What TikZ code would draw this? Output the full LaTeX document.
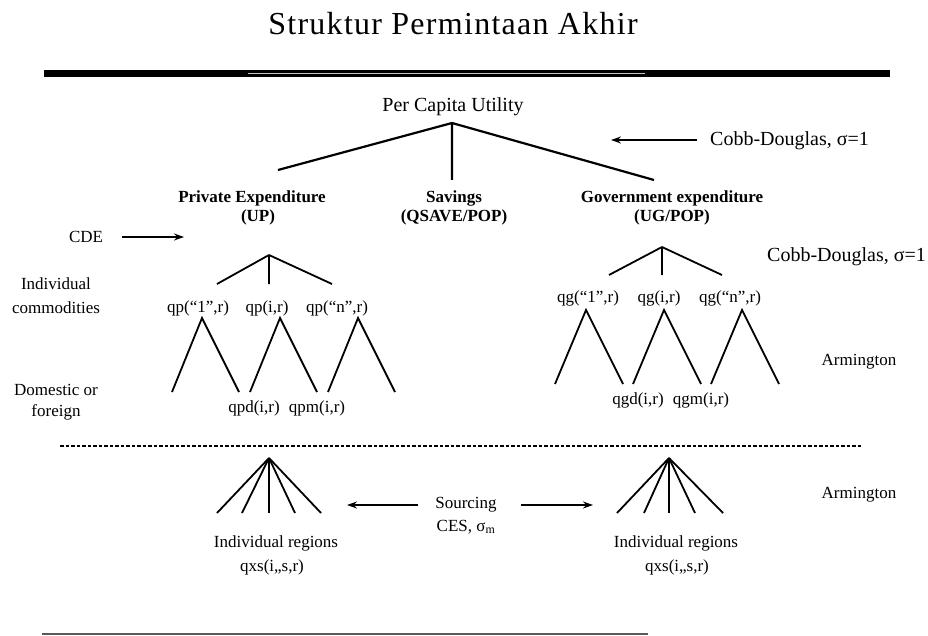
\documentclass[tikz,border=0pt]{standalone}
\usepackage{fontspec}
\setmainfont{Liberation Serif}
\newfontfamily\titlefont[LetterSpace=4]{Liberation Serif}
\usetikzlibrary{arrows.meta}
\tikzset{
  lbl/.style={inner sep=0pt, font=\fontsize{17}{19}\selectfont},
  head/.style={inner sep=0pt, font=\fontsize{17}{19}\bfseries\selectfont},
  cobb/.style={inner sep=0pt, anchor=west, font=\fontsize{20}{22}\selectfont},
  branch/.style={line width=1.8pt},
  topbranch/.style={line width=2.2pt},
  pointer/.style={line width=1.8pt, -{Stealth[length=10pt,width=7pt]}}
}
\begin{document}
\begin{tikzpicture}[x=1pt,y=-1pt]
\useasboundingbox (0,0) rectangle (928,636);

% title and rules
\node[inner sep=0pt, anchor=base, font=\titlefont\fontsize{32}{36}\selectfont] (title) at (453,35) {Struktur Permintaan Akhir};
\coordinate (rA) at (44,73.5);
\coordinate (rB) at (890,73.5);
\coordinate (rC) at (248,73.5);
\coordinate (rD) at (645,73.5);
\draw[line width=7pt] (rA) -- (rB);
\draw[line width=1.6pt, gray!45] (rC) -- (rD);
\coordinate (bA) at (42,634);
\coordinate (bB) at (648,634);
\draw[line width=1.5pt, black!65] (bA) -- (bB);

% top level
\node[inner sep=0pt, anchor=base, font=\fontsize{20}{22}\selectfont] (util) at (453,112) {Per Capita Utility};
\coordinate (u0) at (452,123);
\coordinate (u1) at (278,170);
\coordinate (u2) at (452,180);
\coordinate (u3) at (654,180);
\draw[topbranch] (u0) -- (u1) (u0) -- (u2) (u0) -- (u3);

\node[cobb] (cd1) at (710,141) {Cobb-Douglas, σ=1};
\coordinate (cd1s) at (697,140);
\coordinate (cd1e) at (611,140);
\draw[pointer] (cd1s) -- (cd1e);

\node[head] (pe1) at (252,198) {Private Expenditure};
\node[head] (pe2) at (258,217) {(UP)};
\node[head] (sv1) at (454,198) {Savings};
\node[head] (sv2) at (454,217) {(QSAVE/POP)};
\node[head] (ge1) at (672,198) {Government expenditure};
\node[head] (ge2) at (672,217) {(UG/POP)};

\node[lbl] (cde) at (86,237) {CDE};
\coordinate (cdes) at (122,237);
\coordinate (cdee) at (184,237);
\draw[pointer] (cdes) -- (cdee);

% private commodities
\coordinate (p0) at (269,255);
\coordinate (p1) at (217,284);
\coordinate (p2) at (269,284);
\coordinate (p3) at (332,284);
\draw[branch] (p0) -- (p1) (p0) -- (p2) (p0) -- (p3);
\node[lbl] (ind1) at (56,284) {Individual};
\node[lbl] (ind2) at (56,308) {commodities};
\node[lbl] (qp1) at (198,308) {qp(“1”,r)};
\node[lbl] (qpi) at (267,308) {qp(i,r)};
\node[lbl] (qpn) at (337,308) {qp(“n”,r)};

% government commodities
\coordinate (g0) at (662,247);
\coordinate (g1) at (609,275);
\coordinate (g2) at (662,275);
\coordinate (g3) at (722,275);
\draw[branch] (g0) -- (g1) (g0) -- (g2) (g0) -- (g3);
\node[cobb] (cd2) at (767,257) {Cobb-Douglas, σ=1};
\node[lbl] (qg1) at (588,298) {qg(“1”,r)};
\node[lbl] (qgi) at (659,298) {qg(i,r)};
\node[lbl] (qgn) at (730,298) {qg(“n”,r)};

% private Armington nests
\foreach \x [count=\k] in {202,280,358}{
  \coordinate (pa\k) at (\x,318);
  \coordinate (pl\k) at (\x-30,392);
  \coordinate (pr\k) at (\x+37,392);
  \draw[branch] (pl\k) -- (pa\k) -- (pr\k);
}
\node[lbl] (dom1) at (56,390) {Domestic or};
\node[lbl] (dom2) at (56,412) {foreign};
\node[lbl] (qpd) at (254,408) {qpd(i,r)};
\node[lbl] (qpm) at (317,408) {qpm(i,r)};

% government Armington nests
\foreach \x [count=\k] in {586,664,742}{
  \coordinate (ga\k) at (\x,310);
  \coordinate (gl\k) at (\x-31,384);
  \coordinate (gr\k) at (\x+37,384);
  \draw[branch] (gl\k) -- (ga\k) -- (gr\k);
}
\node[lbl] (arm1) at (859,362) {Armington};
\node[lbl] (qgd) at (638,400) {qgd(i,r)};
\node[lbl] (qgm) at (701,400) {qgm(i,r)};

% separator
\coordinate (dA) at (60,446);
\coordinate (dB) at (862,446);
\draw[line width=1.6pt, dash pattern=on 3.5pt off 2pt] (dA) -- (dB);

% sourcing fans
\coordinate (s0) at (269,458);
\coordinate (t0) at (669,458);
\foreach \k/\xx in {1/217,2/242,3/269,4/295,5/321}{
  \coordinate (sf\k) at (\xx,513);
  \draw[branch] (s0) -- (sf\k);
}
\foreach \k/\xx in {1/617,2/644,3/669,4/695,5/723}{
  \coordinate (tf\k) at (\xx,513);
  \draw[branch] (t0) -- (tf\k);
}
\node[lbl] (reg1) at (276,543) {Individual regions};
\node[lbl] (qxs1) at (272,567) {qxs(i,,s,r)};
\node[lbl] (reg2) at (676,543) {Individual regions};
\node[lbl] (qxs2) at (677,567) {qxs(i,,s,r)};
\node[lbl] (src1) at (466,505) {Sourcing};
\node[lbl] (src2) at (466,527) {CES, σ\textsubscript{m}};
\coordinate (al1) at (418,505);
\coordinate (al2) at (347,505);
\coordinate (ar1) at (521,505);
\coordinate (ar2) at (593,505);
\draw[pointer] (al1) -- (al2);
\draw[pointer] (ar1) -- (ar2);
\node[lbl] (arm2) at (859,495) {Armington};
\end{tikzpicture}
\end{document}
